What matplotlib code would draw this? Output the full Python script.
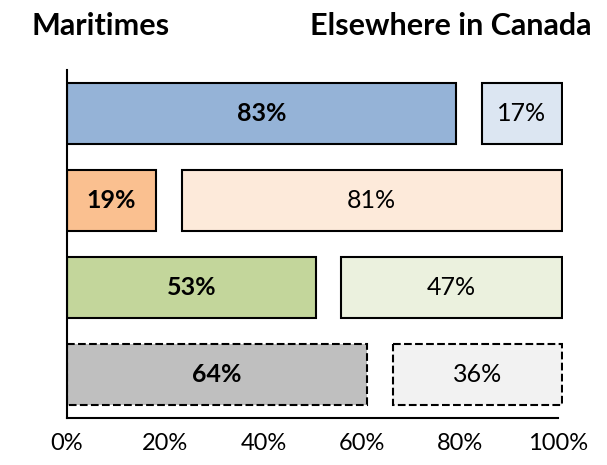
import matplotlib
matplotlib.use("Agg")
import matplotlib.pyplot as plt

# data
rows = ["Row 1", "Row 2", "Row 3", "Row 4"]
maritimes = [83, 19, 53, 64]
elsewhere = [17, 81, 47, 36]
xticks = [0, 20, 40, 60, 80, 100]
xtick_labels = ["0%", "20%", "40%", "60%", "80%", "100%"]
title_left = "Maritimes"
title_right = "Elsewhere in Canada"

# styles
dark_colors = ["#95B3D7", "#FAC090", "#C3D69B", "#BFBFBF"]
light_colors = ["#DCE6F2", "#FDEADA", "#EBF1DE", "#F2F2F2"]
linestyles = ["solid", "solid", "solid", "dashed"]
scale = 0.955   # segment scaling so a gap fits inside the axis
gap = 5.2       # gap between the two segments (axis units)

plt.rcParams['font.family'] = ['Lato', 'DejaVu Sans']

fig = plt.figure(figsize=(6.07, 4.65), dpi=100)
ax = fig.add_axes([67/607, 1-418/465, (563-67)/607, (418-70)/465])

for i, (m, e) in enumerate(zip(maritimes, elsewhere)):
    w1 = m * scale
    w2 = e * scale
    ls = linestyles[i]
    ax.barh(i, w1, left=0, height=0.71, color=dark_colors[i],
            edgecolor="black", linewidth=1.5, linestyle=ls)
    ax.barh(i, w2, left=w1 + gap, height=0.71, color=light_colors[i],
            edgecolor="black", linewidth=1.5, linestyle=ls)
    ax.text(w1 / 2, i, f"{m}%", ha="center", va="center",
            fontsize=18, fontweight="bold", color="black")
    ax.text(w1 + gap + w2 / 2, i, f"{e}%", ha="center", va="center",
            fontsize=18, color="black")

ax.set_ylim(3.5, -0.5)
ax.set_xlim(0, 101)
ax.set_yticks([])
ax.set_xticks(xticks)
ax.set_xticklabels(xtick_labels, fontsize=17)
ax.tick_params(axis="x", length=0, pad=11)
ax.spines["top"].set_visible(False)
ax.spines["right"].set_visible(False)
ax.spines["left"].set_linewidth(1.5)
ax.spines["bottom"].set_linewidth(1.5)
ax.spines["bottom"].set_bounds(0, 100)

fig.text(32/607, 1-35/465, title_left, fontsize=22, fontweight="bold",
         ha="left", va="baseline")
fig.text(592/607, 1-35/465, title_right, fontsize=22, fontweight="bold",
         ha="right", va="baseline")

fig.savefig("out.png", dpi=100)
